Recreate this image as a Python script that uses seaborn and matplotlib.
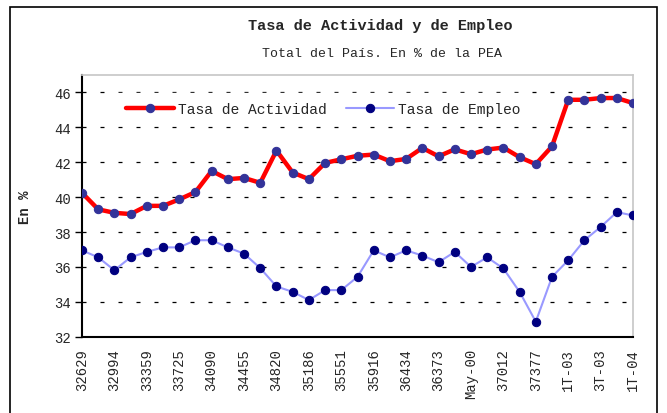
import matplotlib
matplotlib.use("Agg")
import matplotlib.pyplot as plt
import matplotlib.patches as mpatches
import numpy as np
import pandas as pd
import seaborn as sns

# ラベル（偶数番目の点にのみ表示）
tick_labels = ["32629", "32994", "33359", "33725", "34090", "34455", "34820",
               "35186", "35551", "35916", "36434", "36373", "May-00", "37012",
               "37377", "1T-03", "3T-03", "1T-04"]

tasa_actividad = [40.25, 39.3, 39.1, 39.03, 39.5, 39.5, 39.87, 40.29, 41.5,
                  41.03, 41.1, 40.82, 42.67, 41.41, 41.03, 41.96, 42.17, 42.37,
                  42.44, 42.06, 42.19, 42.82, 42.34, 42.74, 42.46, 42.73, 42.84,
                  42.29, 41.89, 42.91, 45.58, 45.58, 45.68, 45.68, 45.39]

tasa_empleo = [36.95, 36.55, 35.81, 36.55, 36.86, 37.12, 37.12, 37.53, 37.53,
               37.12, 36.76, 35.93, 34.88, 34.57, 34.1, 34.67, 34.67, 35.43,
               36.95, 36.55, 36.95, 36.65, 36.27, 36.86, 36.0, 36.55, 35.91,
               34.57, 32.86, 35.43, 36.38, 37.53, 38.29, 39.14, 38.95]

sns.set_theme(style="white")
plt.rcParams["font.family"] = ["Liberation Mono", "DejaVu Sans Mono"]

df = pd.DataFrame({
    "idx": np.arange(len(tasa_actividad)),
    "Tasa de Actividad": tasa_actividad,
    "Tasa de Empleo": tasa_empleo,
})

fig = plt.figure(figsize=(6.67, 4.14), dpi=100)
ax = fig.add_axes([0.1229, 0.1843, 0.8262, 0.6321])

sns.lineplot(data=df, x="idx", y="Tasa de Actividad", ax=ax, color="#ff0000",
             linewidth=3.2, marker="o", markersize=6, markerfacecolor="#333399",
             markeredgecolor="#333399", label="Tasa de Actividad", zorder=3)
sns.lineplot(data=df, x="idx", y="Tasa de Empleo", ax=ax, color="#9999ff",
             linewidth=1.5, marker="o", markersize=6, markerfacecolor="#000080",
             markeredgecolor="#000080", label="Tasa de Empleo", zorder=3)

ax.set_xlim(0, 34)
ax.set_ylim(32, 47)
ax.set_yticks(range(32, 47, 2))
ax.set_xticks(np.arange(0, 35, 2))
ax.set_xticklabels(tick_labels, rotation=90, fontsize=10)
ax.tick_params(axis="y", labelsize=10, left=True, length=5, width=1, direction="out",
               color="black", pad=3)
ax.tick_params(axis="x", bottom=False, pad=2)
ax.set_xlabel("")
ax.set_ylabel("En %", fontsize=10, fontweight="bold", labelpad=16)

for y in range(34, 47, 2):
    ax.axhline(y, color="black", linewidth=0.9, linestyle=(0, (3.2, 11.2)), zorder=1)

ax.spines["left"].set_color("black")
ax.spines["bottom"].set_color("black")
ax.spines["left"].set_linewidth(1.5)
ax.spines["bottom"].set_linewidth(1.5)
ax.spines["top"].set_color("#c8c8c8")
ax.spines["right"].set_color("#c8c8c8")

# Excel風：凡例の背景は白で目盛線を隠す
leg = ax.legend(loc="upper left", bbox_to_anchor=(0.05, 0.958), ncol=2, frameon=True,
                facecolor="white", edgecolor="white", framealpha=1, fancybox=False,
                borderpad=0.6, fontsize=10.5, handlelength=3.3, handletextpad=0.3,
                columnspacing=1.3)
for line in leg.get_lines():
    line.set_markersize(6)

fig.text(0.57, 0.938, "Tasa de Actividad y de Empleo", ha="center", va="center",
         fontsize=11, fontweight="bold")
fig.text(0.573, 0.87, "Total del País. En % de la PEA", ha="center", va="center",
         fontsize=9.5)

# 外枠
fig.patches.append(mpatches.Rectangle((0.015, -0.01), 0.97, 0.99, transform=fig.transFigure,
                                      fill=False, edgecolor="black", linewidth=1.2))

fig.savefig("out.png", dpi=100)
plt.close(fig)
